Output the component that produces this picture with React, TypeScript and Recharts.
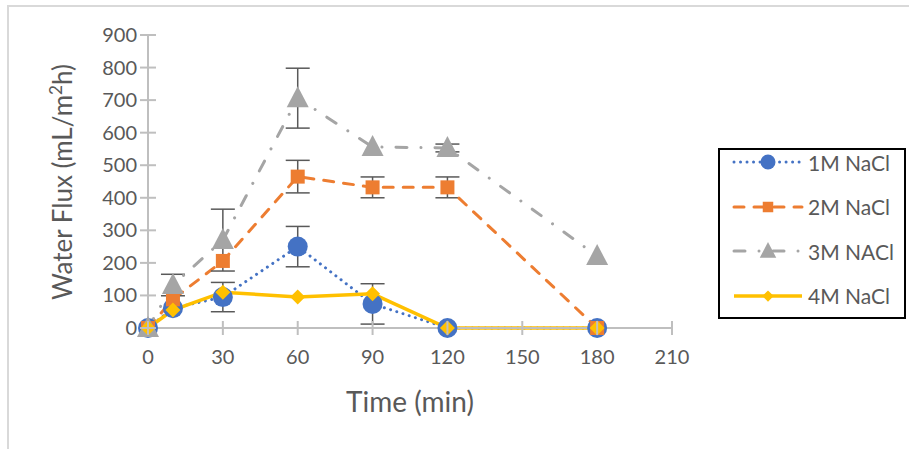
import React from "react"
import { LineChart, Line, XAxis, YAxis, ErrorBar } from "recharts"

const times = [0, 10, 30, 60, 90, 120, 180]
const flux1M = [0, 61, 95, 250, 74, 0, 0]
const err1M = [0, 0, 45, 62, 62, 0, 0]
const flux2M = [0, 88, 206, 465, 432, 432, 0]
const err2M = [0, 0, 0, 50, 32, 32, 0]
const flux3M = [0, 132, 270, 706, 556, 553, 221]
const err3M = [0, 33, 95, 92, 0, 12, 0]
const flux4M = [0, 55, 110, 95, 105, 0, 0]

const xTicks = [0, 30, 60, 90, 120, 150, 180, 210]
const yTicks = [0, 100, 200, 300, 400, 500, 600, 700, 800, 900]

const seriesNames = ["1M NaCl", "2M NaCl", "3M NACl", "4M NaCl"]

const data = times.map((t, i) => ({
  t,
  a: flux1M[i], ea: err1M[i],
  b: flux2M[i], eb: err2M[i],
  c: flux3M[i], ec: err3M[i],
  d: flux4M[i],
}))

const FONT = "Lato, 'Open Sans', sans-serif"
const TXT = "#595959"
const AXIS = "#bfbfbf"

const BLUE = "#4472C4"
const ORANGE = "#ED7D31"
const GRAY = "#A5A5A5"
const GOLD = "#FFC000"

const styles = [
  { color: BLUE, dash: "0.01 6.5", cap: "round" as const, w: 3 },
  { color: ORANGE, dash: "10 10", cap: "round" as const, w: 3 },
  { color: GRAY, dash: "11 14 0.01 14", cap: "round" as const, w: 3 },
  { color: GOLD, dash: undefined, cap: "butt" as const, w: 3.5 },
]

// s = marker scale (plot markers are a bit bigger than legend ones)
function marker(kind: number, cx: number, cy: number, s = 1, key?: string | number) {
  if (kind === 0) return <circle key={key} cx={cx} cy={cy} r={10 * s} fill={BLUE} />
  if (kind === 1) return <rect key={key} x={cx - 7 * s} y={cy - 7 * s} width={14 * s} height={14 * s} fill={ORANGE} />
  if (kind === 2) return <polygon key={key} points={`${cx},${cy - 12 * s} ${cx + 11 * s},${cy + 9 * s} ${cx - 11 * s},${cy + 9 * s}`} fill={GRAY} />
  return <polygon key={key} points={`${cx},${cy - 7.5 * s} ${cx + 7.5 * s},${cy} ${cx},${cy + 7.5 * s} ${cx - 7.5 * s},${cy}`} fill={GOLD} />
}

const dotFor = (kind: number) => (p: any) => marker(kind, p.cx, p.cy, 1, p.index)

function XTick({ x, y, payload }: any) {
  return (
    <g>
      <line x1={x} x2={x} y1={y - 7} y2={y + 7} stroke={AXIS} strokeWidth={2} />
      <text x={x} y={y + 36} textAnchor="middle" fill={TXT} fontSize={20} fontFamily={FONT}>{payload.value}</text>
    </g>
  )
}

function YTick({ x, y, payload }: any) {
  return (
    <g>
      <line x1={x - 8} x2={x + 8} y1={y} y2={y} stroke={AXIS} strokeWidth={2} />
      <text x={x - 11} y={y + 7} textAnchor="end" fill={TXT} fontSize={20} fontFamily={FONT}>{payload.value}</text>
    </g>
  )
}

function LegendBox() {
  return (
    <div style={{ position: "absolute", left: 718, top: 148, width: 188, height: 171, border: "2px solid #000", background: "#fff", boxSizing: "border-box" }}>
      {seriesNames.map((name, i) => (
        <div key={name} style={{ position: "absolute", left: 0, top: 12 + i * 44.5 - 12, display: "flex", alignItems: "center", height: 24, whiteSpace: "nowrap" }}>
          <svg width={86} height={24} style={{ marginLeft: 10 }}>
            <line x1={4} x2={72} y1={12} y2={12} stroke={styles[i].color} strokeWidth={styles[i].w}
              strokeDasharray={styles[i].dash} strokeLinecap={styles[i].cap} />
            {marker(i, 38, 12, 0.75)}
          </svg>
          <span style={{ fontFamily: FONT, fontSize: 21, color: TXT, marginLeft: -8 }}>{name}</span>
        </div>
      ))}
    </div>
  )
}

function YLabel() {
  return (
    <text transform="translate(72,182) rotate(-90)" textAnchor="middle" fill={TXT} fontSize={26} fontFamily={FONT}>
      Water Flux (mL/m<tspan fontSize={17} dy={-10}>2</tspan><tspan dy={10}>h)</tspan>
    </text>
  )
}

export default function App() {
  return (
    <div style={{ position: "absolute", left: 0, top: 0, width: 909, height: 449, overflow: "hidden", background: "#fff" }}>
      <div style={{ position: "absolute", left: 7, top: 5, width: 1000, height: 1000, borderTop: "2px solid #d9d9d9", borderLeft: "2px solid #d9d9d9" }} />
      <div style={{ position: "absolute", left: 0, top: 0 }}>
        <LineChart width={909} height={449} data={data} margin={{ top: 35, right: 237, left: 0, bottom: 0 }}>
          <XAxis dataKey="t" type="number" domain={[0, 210]} ticks={xTicks} interval={0}
            axisLine={{ stroke: AXIS, strokeWidth: 2 }} tickLine={false} tickSize={0} tickMargin={0}
            height={121} tick={<XTick />}
            label={{ content: () => <text x={410} y={412} textAnchor="middle" fill={TXT} fontSize={28} fontFamily={FONT}>Time (min)</text> }} />
          <YAxis type="number" domain={[0, 900]} ticks={yTicks} interval={0} width={148}
            axisLine={{ stroke: AXIS, strokeWidth: 2 }} tickLine={false} tickSize={0} tickMargin={0}
            tick={<YTick />} label={{ content: () => <YLabel /> }} />
          {(["a", "b", "c", "d"] as const).map((k, i) => (
            <Line key={k} dataKey={k} name={seriesNames[i]} type="linear" isAnimationActive={false}
              stroke={styles[i].color} strokeWidth={styles[i].w} strokeDasharray={styles[i].dash} strokeLinecap={styles[i].cap}
              dot={dotFor(i)} activeDot={false}>
              {i < 3 && <ErrorBar dataKey={"e" + k} direction="y" width={12} stroke="#595959" strokeWidth={1.5} />}
            </Line>
          ))}
        </LineChart>
      </div>
      <LegendBox />
    </div>
  )
}
